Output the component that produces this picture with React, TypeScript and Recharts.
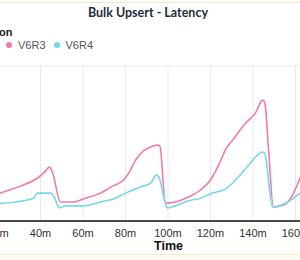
import { CartesianGrid, Line, LineChart, XAxis, YAxis } from "recharts";

const PINK = "#f27aa8";
const CYAN = "#74d6ef";

// minutes since start
const v6r3Time = [20, 21.2, 30.6, 38.6, 41.9, 44.2, 45.6, 49.4, 55.1, 61.2, 68.2, 73.9, 79.1, 82.4, 84.7, 88.5, 91.8, 95.1, 96.2, 98.8, 103.5, 109.6, 115.3, 120, 123.8, 127.5, 131.3, 136.5, 141.2, 144.5, 145.5, 147.3, 149.6, 154.4, 158.6, 162.4, 165];
const v6r3Values = [6.9, 7.2, 9.0, 11.1, 12.6, 13.9, 12.6, 4.9, 4.9, 5.9, 7.2, 9.0, 10.6, 13.2, 15.7, 18.1, 19.1, 19.6, 19.3, 4.6, 4.9, 6.2, 8.0, 10.6, 14.4, 18.8, 21.5, 25.2, 27.9, 31.2, 30.6, 18.5, 3.6, 4.1, 6.7, 11.4, 14.6];

const v6r4Time = [20, 21.2, 33.9, 36.7, 38.6, 44.7, 46.1, 48.9, 51.8, 60.2, 68.2, 75.3, 80, 87.1, 91.8, 94.6, 95.6, 99.8, 103.5, 109.6, 115.3, 120.9, 127.1, 131.8, 137.9, 144.5, 145.6, 149.2, 155.3, 162.4, 165];
const v6r4Values = [4.6, 4.6, 5.4, 5.9, 7.2, 7.2, 6.5, 3.4, 3.9, 3.9, 4.9, 5.9, 7.2, 8.8, 9.8, 11.9, 11.4, 3.4, 3.9, 5.2, 5.9, 7.2, 8.3, 10.6, 14.4, 17.8, 17.3, 3.6, 4.6, 7.2, 8.0];

const xTicks = [20, 40, 60, 80, 100, 120, 140, 160];
const yTicks = [0, 5, 10, 15, 20, 25, 30, 35, 40];

const v6r3 = v6r3Time.map((t, i) => ({ t, v: v6r3Values[i] }));
const v6r4 = v6r4Time.map((t, i) => ({ t, v: v6r4Values[i] }));

const sans = "'Liberation Sans', Arial, sans-serif";

export default function App() {
  return (
    <div
      style={{
        position: "fixed",
        top: 0,
        left: 0,
        width: 300,
        height: 260,
        overflow: "hidden",
        background: "#fff",
        fontFamily: sans,
      }}
    >
      <div style={{ position: "absolute", top: 2, left: 0, width: 300, height: 1, background: "#fbe6c0" }} />
      <div
        style={{
          position: "absolute",
          top: 5,
          width: 300,
          textAlign: "center",
          left: -2,
          fontFamily: "Lato, sans-serif",
          fontWeight: 700,
          fontSize: 12.5,
          color: "#1f2d3d",
        }}
      >
        Bulk Upsert - Latency
      </div>
      <div style={{ position: "absolute", top: 26, left: -1, fontSize: 11, fontWeight: 700, color: "#222" }}>on</div>
      <div style={{ position: "absolute", top: 39, left: 6, display: "flex", alignItems: "center", fontSize: 11, color: "#555" }}>
        <span style={{ width: 6, height: 6, borderRadius: 3, background: PINK, marginRight: 6 }} />
        <span style={{ marginRight: 8 }}>V6R3</span>
        <span style={{ width: 6, height: 6, borderRadius: 3, background: CYAN, marginRight: 6 }} />
        <span>V6R4</span>
      </div>

      <div style={{ position: "absolute", top: 0, left: -12.5 }}>
        <LineChart width={340} height={260} margin={{ top: 66, left: 10, right: 21.875, bottom: 9 }}>
          <CartesianGrid stroke="#e9e9e9" strokeWidth={1} />
          <XAxis
            type="number"
            dataKey="t"
            domain={[20, 165]}
            ticks={xTicks}
            allowDataOverflow
            height={30}
            tickFormatter={(v) => `${v}m`}
            tick={{ fontSize: 11, fill: "#333", fontFamily: sans }}
            tickLine={false}
            axisLine={{ stroke: "#111", strokeWidth: 1.5 }}
            interval={0}
          />
          <YAxis
            type="number"
            domain={[0, 40]}
            ticks={yTicks}
            width={0}
            tick={false}
            tickLine={false}
            axisLine={false}
          />
          <Line data={v6r3} dataKey="v" type="monotone" stroke={PINK} strokeWidth={1.6} dot={false} isAnimationActive={false} />
          <Line data={v6r4} dataKey="v" type="monotone" stroke={CYAN} strokeWidth={1.6} dot={false} isAnimationActive={false} />
        </LineChart>
      </div>

      <div style={{ position: "absolute", top: 239, left: 154, fontSize: 12.5, fontWeight: 700, color: "#111" }}>Time</div>
      <div style={{ position: "absolute", top: 254, left: 0, width: 300, height: 1, background: "#fde9c4" }} />
      <div style={{ position: "absolute", top: 255, left: 0, width: 300, height: 5, background: "#fffcf4" }} />
    </div>
  );
}
